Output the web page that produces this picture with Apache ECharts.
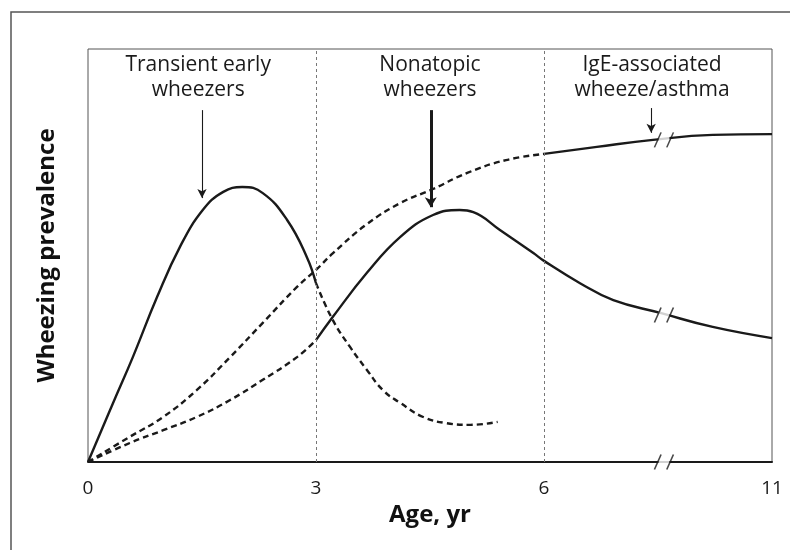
<!DOCTYPE html>
<html><head><meta charset="utf-8">
<script src="https://cdn.jsdelivr.net/npm/echarts@6/dist/echarts.min.js"></script>
<style>html,body{margin:0;padding:0;background:#fff}#c{width:790px;height:550px}</style>
</head><body><div id="c"></div>
<script>
// ---- data (ages in years, prevalence in relative units 0-100) ----
const xTickAges = [0, 3, 6, 11];
const xTickLabels = ['0', '3', '6', '11'];
const dividerAges = [3, 6];

const transientSolidAge = [0, 0.33, 0.59, 0.91, 1.21, 1.51, 1.78, 2.03, 2.30, 2.62, 2.88, 3.0];
const transientSolidVal = [0, 14.3, 25.4, 40.0, 52.1, 61.0, 65.4, 66.6, 65.1, 58.6, 49.6, 43.3];
const transientDashAge = [3.0, 3.22, 3.45, 3.67, 3.88, 4.11, 4.41, 4.72, 5.03, 5.39];
const transientDashVal = [43.3, 34.4, 27.8, 22.3, 17.4, 14.3, 10.9, 9.4, 9.0, 9.7];

const nonatopicDashAge = [0, 0.55, 0.99, 1.43, 1.87, 2.30, 2.75, 3.0];
const nonatopicDashVal = [0, 4.6, 7.7, 10.9, 15.0, 19.9, 25.4, 29.5];
const nonatopicSolidAge = [3.0, 3.22, 3.67, 4.11, 4.54, 4.89, 5.07, 5.42, 5.86, 6.0, 6.79, 7.52, 8.55, 9.70, 11];
const nonatopicSolidVal = [29.5, 35.1, 45.8, 54.5, 59.8, 61.0, 60.5, 56.2, 50.6, 48.7, 43.3, 39.2, 36.1, 32.7, 30.0];

const igeDashAge = [0, 0.55, 0.99, 1.43, 1.87, 2.30, 2.75, 3.0, 3.22, 3.67, 4.11, 4.54, 4.99, 5.5, 6.0];
const igeDashVal = [0, 6.1, 10.9, 17.4, 25.4, 33.7, 42.4, 46.5, 50.5, 57.6, 62.7, 66.1, 70.0, 73.1, 74.6];
const igeSolidAge = [6.0, 7.16, 8.39, 9.70, 11];
const igeSolidVal = [74.6, 76.3, 78.0, 79.2, 79.4];

// axis break marks (age, value on curve)
const breakAge = 8.63;
const breakVals = [78.0, 35.6, 0];

// annotations: text, text anchor age, arrow start/end values
const annotText = [['Transient early', 'wheezers'], ['Nonatopic', 'wheezers'], ['IgE-associated', 'wheeze/asthma']];
const annotAge = [1.45, 4.5, 8.37];
const arrowAge = [1.5, 4.51, 8.35];
const arrowTop = [85.2, 85.2, 85.7];
const arrowEnd = [63.9, 61.7, 79.7];

// ---- broken x scale: 0-6 linear, 6-11 compressed into 3 units ----
function toU(a) { return a <= 6 ? a : 6 + (a - 6) * 0.6; }
function pts(ages, vals) { return ages.map((a, i) => [toU(a), vals[i]]); }
const tickMap = {};
xTickAges.forEach((a, i) => { tickMap[toU(a)] = xTickLabels[i]; });

const INK = '#1a1a1a';
const DASH = [6, 4];
function lineSeries(data, dashed, extra) {
  return Object.assign({
    type: 'line', data: data, showSymbol: false, smooth: 0.45, silent: true,
    lineStyle: { color: INK, width: 2.4, type: dashed ? DASH : 'solid', cap: 'butt' },
    z: 3
  }, extra || {});
}

const arrowLines = arrowAge.map((a, i) => ({
  lineStyle: { width: i === 1 ? 3 : 1.1, color: INK, type: 'solid' },
  symbolSize: i === 1 ? [9, 10] : [7, 9],
  data: [[{ coord: [toU(a), arrowTop[i]] }, { coord: [toU(a), arrowEnd[i]] }]]
}));

const series = [
  lineSeries(pts(transientSolidAge, transientSolidVal), false, {
    markLine: {
      silent: true, symbol: 'none', label: { show: false },
      lineStyle: { color: '#777', width: 1, type: [3, 3] },
      data: dividerAges.map(a => ({ xAxis: toU(a) }))
    }
  }),
  lineSeries(pts(transientDashAge, transientDashVal), true),
  lineSeries(pts(nonatopicDashAge, nonatopicDashVal), true),
  lineSeries(pts(nonatopicSolidAge, nonatopicSolidVal), false),
  lineSeries(pts(igeDashAge, igeDashVal), true),
  lineSeries(pts(igeSolidAge, igeSolidVal), false)
];
arrowLines.forEach(m => {
  series.push({
    type: 'line', data: [], silent: true,
    markLine: {
      silent: true, symbol: ['none', 'arrow'], symbolSize: m.symbolSize,
      label: { show: false }, lineStyle: m.lineStyle, data: m.data,
      itemStyle: { color: INK }
    }
  });
});
const breakData = breakVals.map(v => [toU(breakAge), v]);
series.push({
  type: 'scatter', data: breakData, symbol: 'rect', symbolSize: [11, 7], clip: false, silent: true,
  itemStyle: { color: '#fff' }, z: 10
});
series.push({
  type: 'scatter', data: breakData, clip: false, silent: true,
  symbol: 'path://M0,14L7,0M13,14L20,0', symbolSize: [19, 15],
  itemStyle: { color: 'rgba(0,0,0,0)', borderColor: INK, borderWidth: 1.4 }, z: 11
});

const chart = echarts.init(document.getElementById('c'));
chart.setOption({
  animation: false,
  backgroundColor: '#fff',
  textStyle: { fontFamily: 'Open Sans' },
  grid: { left: 88, right: 18, top: 49, bottom: 88, show: true, borderColor: '#555', borderWidth: 1, backgroundColor: 'transparent' },
  xAxis: {
    type: 'value', min: 0, max: 9, interval: 3,
    axisLine: { show: true, lineStyle: { color: INK, width: 2 } },
    axisTick: { show: false }, splitLine: { show: false },
    axisLabel: { formatter: v => tickMap[v] !== undefined ? tickMap[v] : '', fontSize: 19, color: '#1a1a1a', margin: 17, fontFamily: 'Open Sans' },
    name: 'Age, yr', nameLocation: 'middle', nameGap: 39,
    nameTextStyle: { fontSize: 24, fontWeight: 'bold', color: '#111', fontFamily: 'Open Sans' }
  },
  yAxis: {
    type: 'value', min: 0, max: 100,
    axisLine: { show: false }, axisTick: { show: false }, axisLabel: { show: false }, splitLine: { show: false },
    name: 'Wheezing prevalence', nameLocation: 'middle', nameGap: 29,
    nameTextStyle: { fontSize: 24, fontWeight: 'bold', color: '#111', fontFamily: 'Open Sans' }
  },
  series: series
});

// annotation texts, placed through the chart's own coordinate conversion
const annotY = 93.0;
const graphics = [{
  type: 'rect', shape: { x: 11, y: 12, width: 800, height: 560 }, silent: true,
  style: { fill: 'none', stroke: '#555', lineWidth: 1.5 }, z: 0
}];
annotText.forEach((lines, i) => {
  const p = chart.convertToPixel({ gridIndex: 0 }, [toU(annotAge[i]), annotY]);
  graphics.push({
    type: 'text', x: p[0], y: p[1], silent: true, z: 20,
    style: { text: lines.join('\n'), align: 'center', verticalAlign: 'middle', lineHeight: 25,
      fontSize: 21, fontFamily: 'Open Sans', fill: '#1a1a1a' }
  });
});
chart.setOption({ graphic: graphics });
</script></body></html>
